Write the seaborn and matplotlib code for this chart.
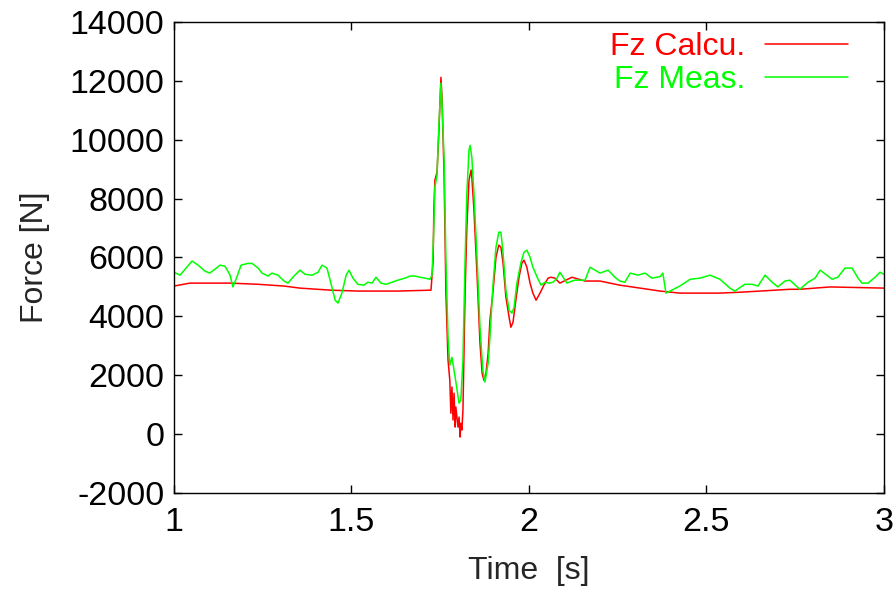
import numpy as np
import pandas as pd
import matplotlib
matplotlib.use("Agg")
import matplotlib.pyplot as plt
import seaborn as sns

# Fz calculated (time [s], force [N])
calc_t = [1.000, 1.045, 1.158, 1.237, 1.310, 1.355, 1.442, 1.518, 1.631, 1.721,
          1.724, 1.730, 1.732, 1.735, 1.741, 1.746, 1.752, 1.755, 1.761, 1.766,
          1.772, 1.777, 1.780, 1.783, 1.786, 1.789, 1.792, 1.794, 1.800, 1.803,
          1.806, 1.808, 1.811, 1.814, 1.820, 1.825, 1.831, 1.837, 1.839, 1.845,
          1.854, 1.862, 1.868, 1.873, 1.879, 1.885, 1.890, 1.899, 1.907, 1.915,
          1.921, 1.927, 1.935, 1.944, 1.949, 1.955, 1.963, 1.972, 1.980, 1.986,
          1.994, 2.003, 2.011, 2.020, 2.031, 2.042, 2.054, 2.062, 2.073, 2.087,
          2.121, 2.158, 2.200, 2.256, 2.313, 2.369, 2.425, 2.482, 2.538, 2.594,
          2.651, 2.735, 2.763, 2.848, 3.000]
calc_f = [5030, 5130, 5130, 5090, 5030, 4960, 4890, 4860, 4860, 4890,
          4890, 5910, 7610, 8630, 8900, 10220, 12120, 11440, 8730, 4790,
          2510, 1830, 710, 1600, 480, 1390, 240, 920, 240, 580,
          -100, 370, 140, 820, 4790, 7030, 8630, 8970, 8730, 7610,
          5330, 3090, 2070, 1830, 2070, 2750, 3870, 4890, 6010, 6420,
          6350, 5810, 4650, 3970, 3630, 3800, 4550, 5330, 5810, 5910,
          5670, 5130, 4790, 4550, 4790, 5060, 5300, 5330, 5300, 5130,
          5330, 5200, 5200, 5060, 4960, 4860, 4790, 4790, 4790, 4820,
          4860, 4920, 4920, 5000, 4960]

# Fz measured
meas_t = [1.000, 1.017, 1.034, 1.051, 1.068, 1.087, 1.101, 1.115, 1.130, 1.144,
          1.158, 1.166, 1.177, 1.189, 1.208, 1.220, 1.237, 1.248, 1.265, 1.276,
          1.293, 1.310, 1.321, 1.338, 1.355, 1.369, 1.389, 1.406, 1.417, 1.431,
          1.442, 1.454, 1.462, 1.473, 1.485, 1.493, 1.504, 1.518, 1.535, 1.546,
          1.558, 1.569, 1.583, 1.597, 1.614, 1.631, 1.651, 1.665, 1.679, 1.693,
          1.707, 1.721, 1.727, 1.732, 1.735, 1.741, 1.746, 1.752, 1.755, 1.761,
          1.766, 1.772, 1.777, 1.783, 1.792, 1.803, 1.808, 1.814, 1.820, 1.825,
          1.831, 1.834, 1.839, 1.845, 1.854, 1.862, 1.870, 1.876, 1.885, 1.890,
          1.899, 1.907, 1.915, 1.921, 1.927, 1.935, 1.944, 1.952, 1.958, 1.966,
          1.977, 1.986, 1.994, 2.003, 2.011, 2.023, 2.034, 2.045, 2.056, 2.068,
          2.079, 2.087, 2.107, 2.121, 2.130, 2.158, 2.172, 2.200, 2.223, 2.242,
          2.256, 2.270, 2.285, 2.307, 2.327, 2.346, 2.369, 2.377, 2.386, 2.425,
          2.454, 2.482, 2.510, 2.538, 2.566, 2.580, 2.608, 2.628, 2.645, 2.665,
          2.685, 2.701, 2.721, 2.735, 2.763, 2.786, 2.806, 2.820, 2.839, 2.854,
          2.870, 2.890, 2.910, 2.927, 2.938, 2.955, 2.975, 2.989, 3.000]
meas_f = [5500, 5400, 5640, 5880, 5740, 5540, 5470, 5600, 5740, 5700,
          5400, 5000, 5330, 5740, 5800, 5800, 5640, 5470, 5370, 5470,
          5400, 5200, 5130, 5370, 5570, 5430, 5400, 5500, 5740, 5640,
          5130, 4550, 4450, 4790, 5400, 5570, 5300, 5090, 5060, 5160,
          5130, 5330, 5130, 5090, 5160, 5230, 5300, 5370, 5370, 5330,
          5300, 5260, 5400, 7030, 8390, 8800, 10430, 11920, 11240, 9310,
          5910, 3290, 2340, 2610, 1940, 1050, 1150, 2510, 5910, 8180,
          9640, 9810, 9410, 8180, 5910, 3630, 2170, 1770, 2410, 3290,
          5130, 6350, 6860, 6860, 6150, 4890, 4210, 4110, 4310, 5130,
          5810, 6180, 6250, 6010, 5670, 5330, 5060, 5160, 5130, 5160,
          5300, 5500, 5130, 5200, 5230, 5230, 5670, 5470, 5570, 5330,
          5200, 5160, 5470, 5400, 5470, 5300, 5350, 5470, 4790, 5030,
          5260, 5300, 5400, 5260, 4960, 4860, 5090, 5090, 5030, 5400,
          5160, 5000, 5200, 5230, 4920, 5160, 5300, 5570, 5400, 5260,
          5330, 5640, 5640, 5300, 5130, 5130, 5330, 5500, 5430]

x_ticks = [1, 1.5, 2, 2.5, 3]
y_ticks = list(range(-2000, 14001, 2000))

sns.set_style("ticks")
plt.rcParams['font.family'] = ['Liberation Sans', 'DejaVu Sans']
fs = 23

fig = plt.figure(figsize=(8.94, 5.91), dpi=100)
ax = fig.add_axes([0.1946, 0.1658, 0.7942, 0.797])

calc = pd.DataFrame({"t": calc_t, "f": calc_f})
meas = pd.DataFrame({"t": meas_t, "f": meas_f})
sns.lineplot(data=calc, x="t", y="f", color="#ff0000", lw=1.1,
             estimator=None, label="Fz Calcu.", ax=ax)
sns.lineplot(data=meas, x="t", y="f", color="#00ff00", lw=1.1,
             estimator=None, label="Fz Meas.", ax=ax)

ax.set_xlim(1, 3)
ax.set_ylim(-2000, 14000)
ax.set_xticks(x_ticks)
ax.set_xticklabels([f"{v:g}" for v in x_ticks])
ax.set_yticks(y_ticks)
ax.set_yticklabels([str(v) for v in y_ticks])
ax.tick_params(direction="in", length=6, width=1, top=True, right=True,
               labelsize=24.5, colors="black")
ax.tick_params(axis="x", pad=10)
ax.tick_params(axis="y", pad=7)
for s in ax.spines.values():
    s.set_visible(True)
    s.set_linewidth(1.0)
    s.set_color("black")

ax.set_xlabel("Time  [s]", fontsize=fs, labelpad=13)
ax.set_ylabel("Force [N]", fontsize=fs, labelpad=14)

leg = ax.legend(loc="upper right", frameon=False, markerfirst=False,
                labelcolor="linecolor", fontsize=fs, handlelength=2.6,
                handletextpad=0.6, labelspacing=0.08, borderpad=0,
                bbox_to_anchor=(0.949, 0.978), borderaxespad=0)

fig.savefig("out.png", dpi=100)
